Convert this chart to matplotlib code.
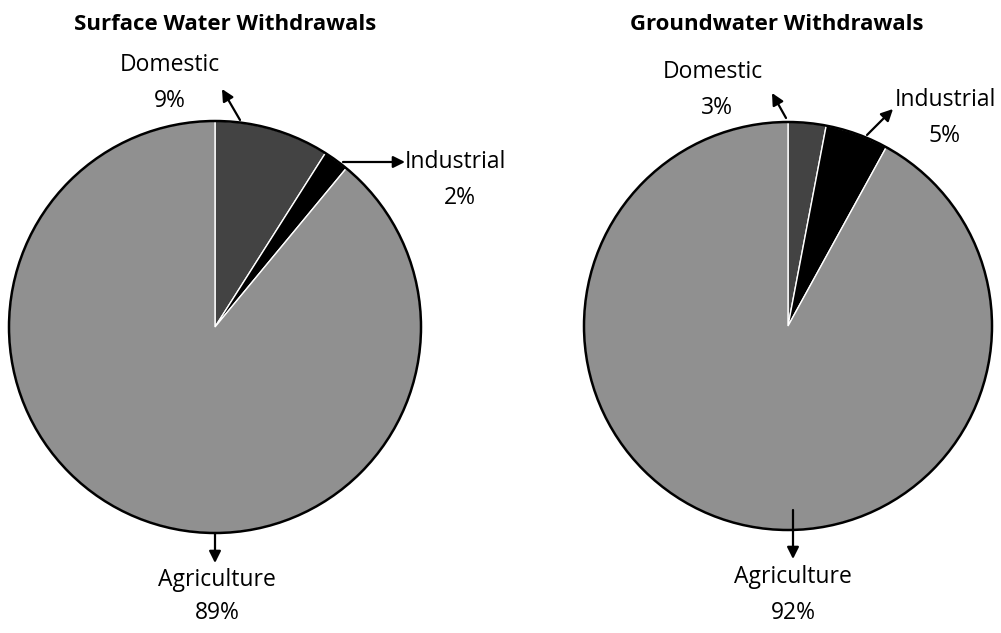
import matplotlib
matplotlib.use("Agg")
import matplotlib.pyplot as plt
from matplotlib.patches import Circle

categories = ["Domestic", "Industrial", "Agriculture"]
surface_values = [9, 2, 89]
ground_values = [3, 5, 92]
titles = ["Surface Water Withdrawals", "Groundwater Withdrawals"]
colors = ["#434343", "#000000", "#909090"]

W, H = 1001, 633
fig = plt.figure(figsize=(W / 100, H / 100), dpi=100)
ax = fig.add_axes([0, 0, 1, 1])

FONT = "Open Sans"

def Y(y):
    return H - y

def draw_pie(values, cx, cy, r, title, tx, labels):
    wedges, _ = ax.pie(values, colors=colors, startangle=90, counterclock=False,
                       center=(cx, Y(cy)), radius=r,
                       wedgeprops=dict(edgecolor="white", linewidth=1.0))
    ax.add_patch(Circle((cx, Y(cy)), r, fill=False, edgecolor="black", linewidth=1.8, zorder=5))
    ax.text(tx, Y(24), title, ha="center", va="center", fontsize=16,
            fontweight="bold", family=FONT)
    for (name, val, tpos, ppos, a0, a1, ha) in labels:
        ax.annotate("", xy=(a1[0], Y(a1[1])), xytext=(a0[0], Y(a0[1])),
                    arrowprops=dict(arrowstyle="-|>,head_length=0.7,head_width=0.35",
                                    color="black", lw=1.6, shrinkA=0, shrinkB=0),
                    zorder=6)
        ax.text(tpos[0], Y(tpos[1]), name, ha=ha, va="center", fontsize=16.5, family=FONT)
        ax.text(ppos[0], Y(ppos[1]), f"{val}%", ha="center", va="center", fontsize=16.5, family=FONT)

draw_pie(surface_values, 215, 327, 206, titles[0], 225, [
    (categories[0], surface_values[0], (170, 65), (170, 101), (240, 120), (222, 89), "center"),
    (categories[1], surface_values[1], (405, 162), (460, 198), (343, 162), (405, 162), "left"),
    (categories[2], surface_values[2], (217, 580), (217, 613), (215, 533), (215, 563), "center"),
])
draw_pie(ground_values, 788, 326, 204, titles[1], 777, [
    (categories[0], ground_values[0], (713, 72), (717, 108), (786, 118), (772, 93), "center"),
    (categories[1], ground_values[1], (895, 100), (945, 136), (867, 135), (893, 109), "left"),
    (categories[2], ground_values[2], (793, 577), (793, 613), (793, 510), (793, 559), "center"),
])

ax.set_xlim(0, W)
ax.set_ylim(0, H)
ax.set_aspect("auto")
ax.axis("off")
fig.savefig("out.png", dpi=100, facecolor="white")
